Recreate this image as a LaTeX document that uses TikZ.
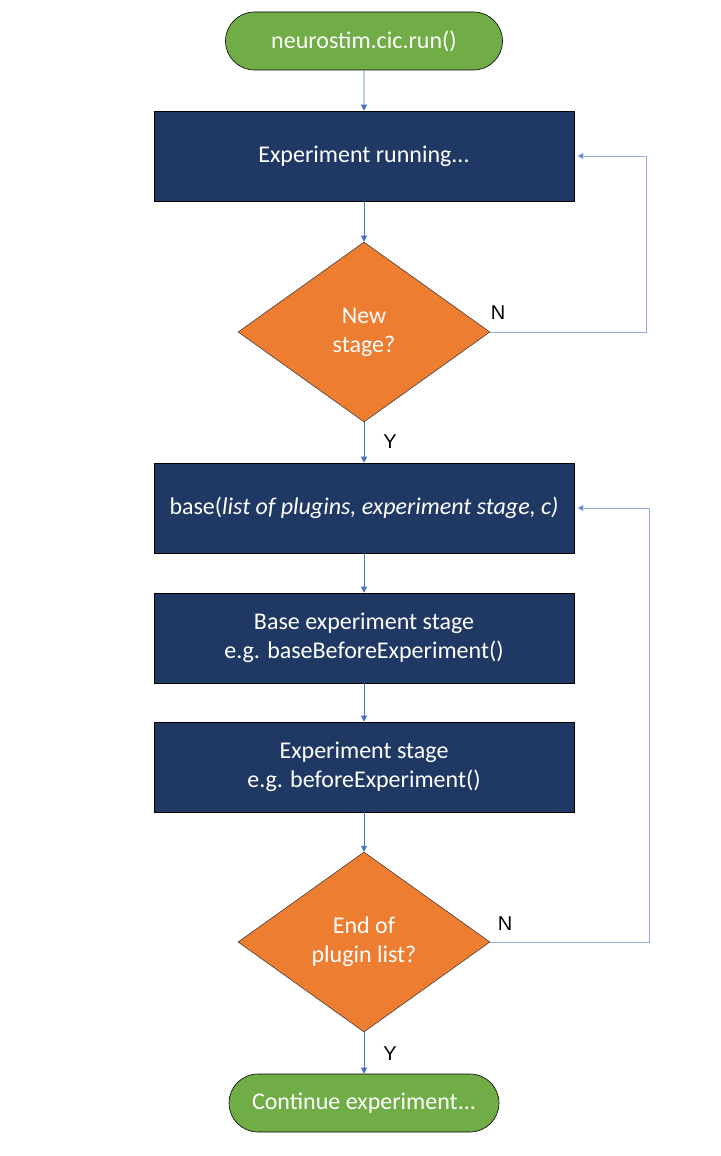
\documentclass[tikz,border=0pt]{standalone}
\usepackage{fontspec}
\setmainfont{Carlito}
\newfontfamily\labelfont{Liberation Sans}
\usetikzlibrary{shapes.geometric,shapes.misc,arrows.meta}
\definecolor{termgreen}{HTML}{70AD47}
\definecolor{boxblue}{HTML}{203864}
\definecolor{diaorange}{HTML}{ED7D31}
\definecolor{arrowblue}{HTML}{4472C4}
\definecolor{loopblue}{HTML}{8FAADC}
\begin{document}
\begin{tikzpicture}[x=1pt,y=-1pt,
  every node/.style={font=\fontsize{24}{29}\selectfont, text=white, align=center, inner sep=0pt},
  term/.style={draw=black, line width=0.6pt, fill=termgreen, rounded rectangle, minimum height=58pt},
  procbox/.style={draw=black, line width=0.6pt, fill=boxblue, minimum width=420pt, minimum height=90pt},
  deci/.style={draw=black!80, line width=0.5pt, fill=diaorange, diamond, minimum width=252pt, minimum height=180pt},
  flow/.style={draw=arrowblue, line width=0.8pt, -{Triangle[width=6pt,length=6pt]}},
  loop/.style={draw=loopblue, line width=1pt, -{Triangle[width=6pt,length=6pt,fill=arrowblue]}},
  yn/.style={font=\labelfont\fontsize{20}{24}\selectfont, text=black}
]
\useasboundingbox (0,0) rectangle (720,1156);
\node[term, minimum width=277pt] (start) at (364,41) {neurostim.cic.run()};
\node[procbox] (run) at (364,156) {Experiment running...};
\node[deci] (d1) at (364,332) {New\\stage?};
\node[procbox] (base) at (364,508) {base(\textit{list of plugins, experiment stage, c)}};
\node[procbox] (bstage) at (364,638) {Base experiment stage\\e.g. baseBeforeExperiment()};
\node[procbox] (stage) at (364,767) {Experiment stage\\e.g. beforeExperiment()};
\node[deci] (d2) at (364,942) {End of\\plugin list?};
\node[term, minimum width=270pt] (end) at (364,1103) {Continue experiment...};

\coordinate (l1) at (646,332);
\coordinate (l1t) at (646,156);
\coordinate (l2) at (649,942);
\coordinate (l2t) at (649,508);

\draw[flow] (start) -- (run);
\draw[flow] (run) -- (d1);
\draw[flow] (d1) -- (base);
\draw[flow] (base) -- (bstage);
\draw[flow] (bstage) -- (stage);
\draw[flow] (stage) -- (d2);
\draw[flow] (d2) -- (end);
\draw[loop] (d1.east) -- (l1) -- (l1t) -- ([xshift=3pt]run.east);
\draw[loop] (d2.east) -- (l2) -- (l2t) -- ([xshift=3pt]base.east);

\node[yn] (n1) at (498,313) {N};
\node[yn] (y1) at (390,442) {Y};
\node[yn] (n2) at (505,924) {N};
\node[yn] (y2) at (390,1054) {Y};
\end{tikzpicture}
\end{document}
